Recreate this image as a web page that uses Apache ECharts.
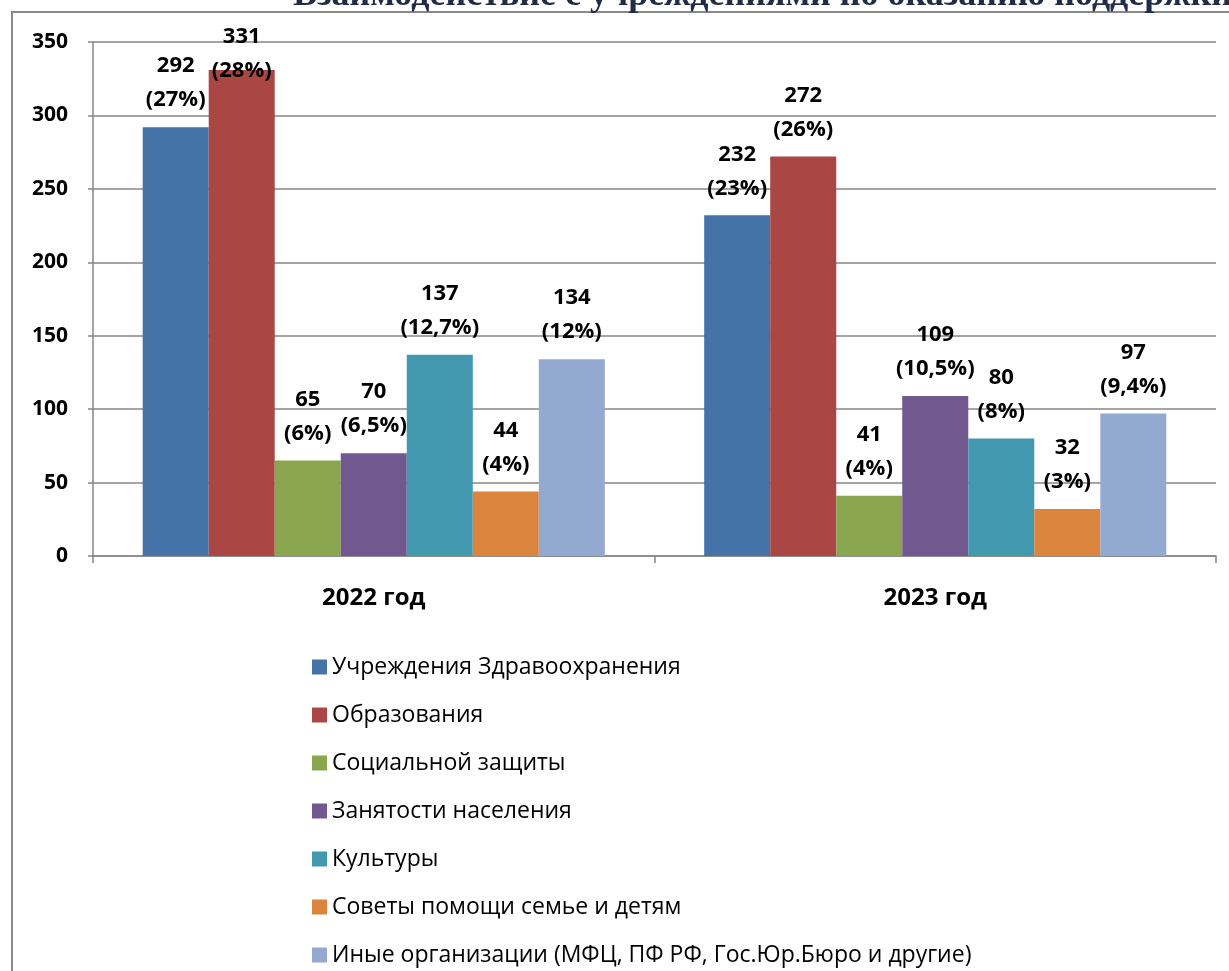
<!DOCTYPE html>
<html>
    <head>
        <meta charset="utf-8">
        <title>Взаимодействие с учреждениями</title>
        <script src="https://cdn.jsdelivr.net/npm/echarts@6/dist/echarts.min.js"></script>
    </head>
    <body style="margin:0;">
        <div id="chart" style="width: 1229px;height: 971px;"></div>
        <script>
            var years = ['2022 год', '2023 год'];
            var names = ['Учреждения Здравоохранения', 'Образования', 'Социальной защиты',
                'Занятости населения', 'Культуры', 'Советы помощи семье и детям',
                'Иные организации (МФЦ, ПФ РФ, Гос.Юр.Бюро и другие)'];
            var values2022 = [292, 331, 65, 70, 137, 44, 134];
            var values2023 = [232, 272, 41, 109, 80, 32, 97];
            var pct2022 = ['27%', '28%', '6%', '6,5%', '12,7%', '4%', '12%'];
            var pct2023 = ['23%', '26%', '4%', '10,5%', '8%', '3%', '9,4%'];
            var colors = ['#4572A7', '#AA4643', '#89A54E', '#71588F', '#4198AF', '#DB843D', '#93A9CF'];

            var yMax = 350;
            var pcts = [pct2022, pct2023];

            var series = names.map(function (name, i) {
                var vals = [values2022[i], values2023[i]];
                return {
                    name: name,
                    type: 'bar',
                    barGap: 0,
                    barCategoryGap: '17.7%',
                    itemStyle: { color: colors[i] },
                    data: vals.map(function (v) {
                        var item = { value: v };
                        // label would run past the top of the plot, Excel pushed it down
                        if (v > yMax - 30) item.label = { offset: [0, 28] };
                        return item;
                    }),
                    label: {
                        show: true,
                        position: 'top',
                        distance: 10,
                        fontFamily: 'Open Sans',
                        fontWeight: 'bold',
                        fontSize: 22,
                        lineHeight: 34,
                        color: '#000',
                        formatter: function (p) {
                            return p.value + '\n(' + pcts[p.dataIndex][p.seriesIndex] + ')';
                        }
                    }
                };
            });

            var option = {
                animation: false,
                color: colors,
                title: {
                    text: 'Взаимодействие с учреждениями по оказанию поддержки',
                    left: 293,
                    top: -22,
                    padding: 0,
                    textStyle: {
                        fontFamily: 'Liberation Serif',
                        fontWeight: 'bold',
                        fontSize: 36,
                        color: '#1f2d45'
                    }
                },
                graphic: [{
                    type: 'rect',
                    z: -1,
                    shape: { x: 12, y: 12, width: 1400, height: 1100 },
                    style: { fill: 'none', stroke: '#8a8a8a', lineWidth: 2 }
                }],
                grid: {
                    left: 93,
                    right: 13,
                    top: 42,
                    bottom: 415
                },
                legend: {
                    orient: 'vertical',
                    left: 312,
                    top: 655,
                    padding: 0,
                    itemWidth: 15,
                    itemHeight: 15,
                    itemGap: 24,
                    icon: 'rect',
                    textStyle: {
                        fontFamily: 'Open Sans',
                        fontSize: 23,
                        lineHeight: 24,
                        color: '#000'
                    },
                    data: names
                },
                xAxis: {
                    type: 'category',
                    data: years,
                    axisLine: { lineStyle: { color: '#868686', width: 1.5 } },
                    axisTick: { show: true, length: 7, alignWithLabel: false, lineStyle: { color: '#868686', width: 1.5 } },
                    axisLabel: {
                        margin: 30,
                        fontFamily: 'Open Sans',
                        fontWeight: 'bold',
                        fontSize: 24,
                        color: '#000'
                    }
                },
                yAxis: {
                    type: 'value',
                    min: 0,
                    max: yMax,
                    interval: 50,
                    axisLine: { show: true, lineStyle: { color: '#868686', width: 1.5 } },
                    axisTick: { show: true, length: 5, lineStyle: { color: '#868686', width: 1.5 } },
                    splitLine: { lineStyle: { color: '#868686', width: 1.5 } },
                    axisLabel: {
                        margin: 25,
                        fontFamily: 'Open Sans',
                        fontWeight: 'bold',
                        fontSize: 21,
                        color: '#000'
                    }
                },
                series: series
            };

            var chart = echarts.init(document.getElementById('chart'));
            chart.setOption(option);
        </script>
    </body>
</html>
